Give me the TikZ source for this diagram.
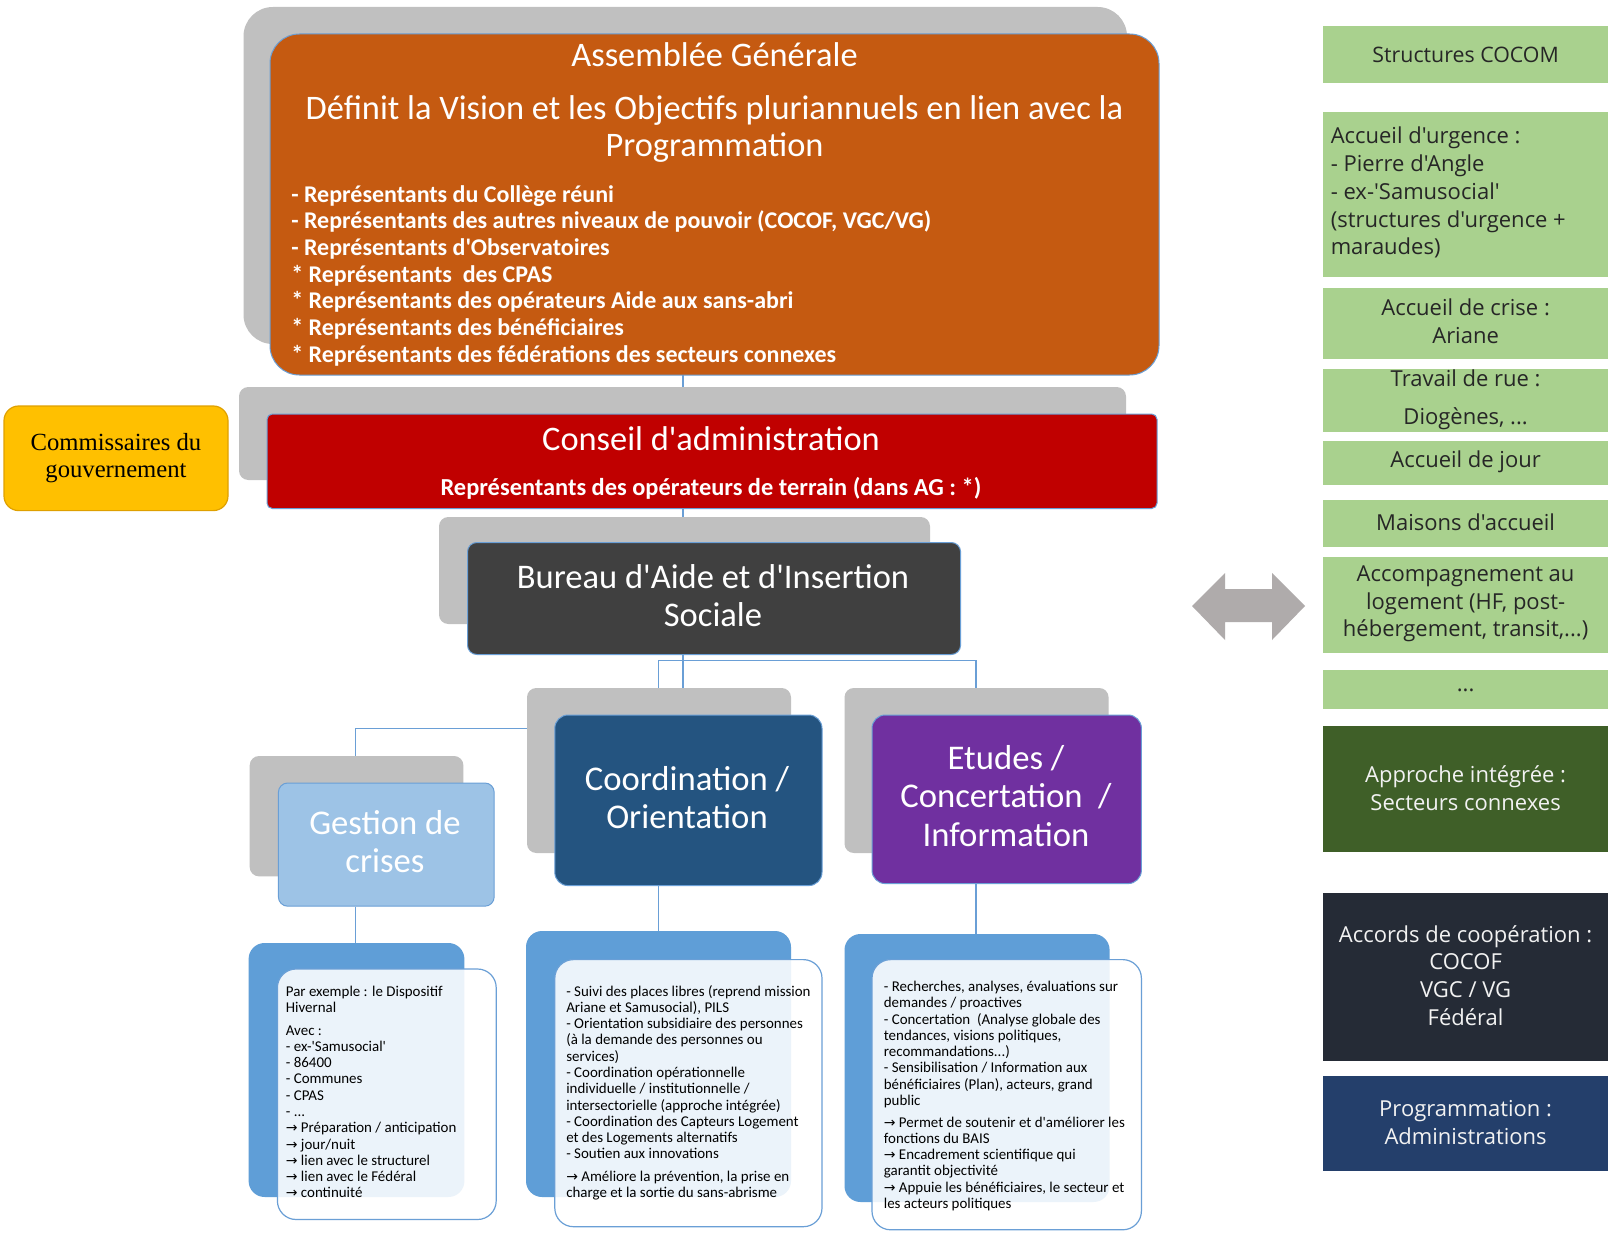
\documentclass[tikz,border=0pt]{standalone}
\usepackage{fontspec}
\setmainfont{Carlito}[Ligatures=TeXOff]
\newfontfamily\rcol{Open Sans}[Ligatures=TeXOff]
\newfontfamily\serifc{Liberation Serif}[Ligatures=TeXOff]
\newfontfamily\arrf{DejaVu Sans}
\usetikzlibrary{fit}
\definecolor{agorange}{HTML}{C55A11}
\definecolor{shgrey}{HTML}{C0C0C0}
\definecolor{cared}{HTML}{C00000}
\definecolor{yel}{HTML}{FFC000}
\definecolor{yelborder}{HTML}{DFA000}
\definecolor{baisgrey}{HTML}{404040}
\definecolor{gestblue}{HTML}{9DC3E6}
\definecolor{coordblue}{HTML}{245480}
\definecolor{etpurple}{HTML}{7030A0}
\definecolor{backblue}{HTML}{5F9ED7}
\definecolor{bordblue}{HTML}{6A9FD6}
\definecolor{lgreen}{HTML}{A9D18E}
\definecolor{dgreen}{HTML}{3F5F28}
\definecolor{accordc}{HTML}{252B36}
\definecolor{progc}{HTML}{243F6B}
\definecolor{arrgrey}{HTML}{AFABAB}
\definecolor{darktext}{HTML}{262626}
\definecolor{lighttext}{HTML}{F2F2F2}
\newcommand{\ar}{{\arrf\fontsize{10.5}{10}\selectfont →}}
\begin{document}
\begin{tikzpicture}[x=0.75pt,y=-0.75pt,
  shadowbox/.style={fill=shgrey, inner sep=0pt, rounded corners=7pt},
  mainbox/.style={draw=bordblue, line width=0.75pt, inner sep=0pt, rounded corners=7pt},
  backbox/.style={fill=backblue, inner sep=0pt, rounded corners=12pt},
  frontbox/.style={fill=white, fill opacity=0.88, draw=bordblue, line width=0.9pt, inner sep=0pt, rounded corners=14pt},
  wtext/.style={text=white, inner sep=0pt},
  smalltext/.style={text=black, inner sep=0pt, align=left, anchor=north west, font=\fontsize{11.2}{12.2}\selectfont},
  gbox/.style={fill=lgreen, inner sep=0pt},
  rtext/.style={inner sep=0pt, align=center, font=\rcol\fontsize{16.5}{20.8}\selectfont},
  conn/.style={draw=bordblue, line width=1.1pt}
]
\useasboundingbox[fill=white] (0,0) rectangle (1611,1234);

% named junction coordinates
\coordinate (trunk) at (683,0);
\coordinate (cobr) at (658.6,660.6);
\coordinate (etbr) at (976,660.6);
\coordinate (gek) at (355.5,728.4);

% ---------- boxes (shadows first) ----------
\node[shadowbox, rounded corners=22pt, fit={(243.5,7) (1127,344)}] (aggrey) {};
\node[shadowbox, fit={(239,387) (1126,480)}] (cagrey) {};
\node[shadowbox, fit={(439,517) (930,624)}] (baisgrey) {};
\node[shadowbox, fit={(249.7,756) (463.4,876.4)}] (gegrey) {};
\node[shadowbox, fit={(527,688) (791,853)}] (cogrey) {};
\node[shadowbox, fit={(844.5,688) (1108.6,853)}] (etgrey) {};

% connectors
\draw[conn] (trunk |- 0,375) -- (trunk |- cagrey.north);
\draw[conn] (trunk |- 0,508) -- (trunk |- baisgrey.north);
\draw[conn] (trunk |- 0,654) -- (trunk |- cogrey.north);
\draw[conn] (cogrey.north -| cobr) -- (cobr) -- (etbr) -- (etgrey.north -| etbr);
\draw[conn] (gegrey.north -| gek) -- (gek) -- (gek -| cogrey.west);

\node[mainbox, fill=agorange, rounded corners=22pt, fit={(270,34) (1159,375)}] (ag) {};
\node[mainbox, fill=cared, rounded corners=4pt, fit={(267,414) (1157,508.5)}] (ca) {};
\node[draw=yelborder, line width=0.9pt, fill=yel, inner sep=0pt, rounded corners=11pt, fit={(4,406) (228,510.6)}] (comm) {};
\node[mainbox, fill=baisgrey, fit={(467.5,542.5) (960.6,654.5)}] (bais) {};
\node[mainbox, fill=gestblue, fit={(278.4,783) (494.2,906.2)}] (ge) {};
\node[mainbox, fill=coordblue, rounded corners=10pt, fit={(554.8,715) (822,885.6)}] (co) {};
\node[mainbox, fill=etpurple, rounded corners=10pt, fit={(872,715) (1141.4,883.6)}] (et) {};

% bottom detail boxes
\node[backbox, fit={(248.6,943) (464.4,1197)}] (geback) {};
\node[backbox, fit={(526,931) (791,1197)}] (coback) {};
\node[backbox, fit={(844.5,934) (1109.6,1202)}] (etback) {};
\draw[conn] (ge.south -| gek) -- (geback.north -| gek);
\draw[conn] (co.south -| cobr) -- (coback.north -| cobr);
\draw[conn] (et.south -| etbr) -- (etback.north -| etbr);
\node[frontbox, fit={(277.4,969) (496.2,1219.5)}] (gefront) {};
\node[frontbox, fit={(554.8,959.6) (822,1226.7)}] (cofront) {};
\node[frontbox, fit={(872,959.6) (1141.4,1229.8)}] (etfront) {};

% ---------- texts ----------
\node[wtext, font=\fontsize{25.8}{28}\selectfont] (agt1) at (714.5,54.5) {Assemblée Générale};
\node[wtext, align=center, font=\fontsize{25.8}{28}\selectfont] (agt2) at (714.5,129) {Définit la Vision et les Objectifs pluriannuels en lien avec la\\Programmation};
\node[wtext, align=left, anchor=north west, font=\bfseries\fontsize{18}{20}\selectfont] (agl) at (291,185) {- Représentants du Collège réuni\\- Représentants des autres niveaux de pouvoir (COCOF, VGC/VG)\\- Représentants d'Observatoires\\* Représentants\ \ des CPAS\\* Représentants des opérateurs Aide aux sans-abri\\* Représentants des bénéficiaires\\* Représentants des fédérations des secteurs connexes};

\node[wtext, font=\fontsize{25.8}{28}\selectfont] (cat1) at (711,439) {Conseil d'administration};
\node[wtext, font=\bfseries\fontsize{18.3}{20}\selectfont] (cat2) at (711,488) {Représentants des opérateurs de terrain (dans AG : *)};

\node[inner sep=0pt, align=center, text=black, font=\serifc\fontsize{18.5}{20.8}\selectfont] (commt) at (116,458) {Commissaires du\\gouvernement};

\node[wtext, align=center, font=\fontsize{25.9}{29}\selectfont] (baist) at (713,595.5) {Bureau d'Aide et d'Insertion\\Sociale};
\node[wtext, align=center, font=\fontsize{26}{29}\selectfont] (get) at (385,841.5) {Gestion de\\crises};
\node[wtext, align=center, font=\fontsize{26}{29}\selectfont] (cot) at (687,797.5) {Coordination /\\Orientation};
\node[wtext, align=center, font=\fontsize{26}{29}\selectfont] (ett) at (1006,796) {Etudes /\\Concertation\ \ /\\Information};

\node[smalltext] (gedet) at (285.6,986) {Par exemple : le Dispositif\\Hivernal\\[4.5pt]Avec :\\- ex-'Samusocial'\\- 86400\\- Communes\\- CPAS\\- ...\\\ar{} Préparation / anticipation\\\ar{} jour/nuit\\\ar{} lien avec le structurel\\\ar{} lien avec le Fédéral\\\ar{} continuité};
\node[smalltext] (codet) at (566,985) {- Suivi des places libres (reprend mission\\Ariane et Samusocial), PILS\\- Orientation subsidiaire des personnes\\(à la demande des personnes ou\\services)\\- Coordination opérationnelle\\individuelle / institutionnelle /\\intersectorielle (approche intégrée)\\- Coordination des Capteurs Logement\\et des Logements alternatifs\\- Soutien aux innovations\\[4.5pt]\ar{} Améliore la prévention, la prise en\\charge et la sortie du sans-abrisme};
\node[smalltext] (etdet) at (883.6,981) {- Recherches, analyses, évaluations sur\\demandes / proactives\\- Concertation\ \ (Analyse globale des\\tendances, visions politiques,\\recommandations...)\\- Sensibilisation / Information aux\\bénéficiaires (Plan), acteurs, grand\\public\\[4pt]\ar{} Permet de soutenir et d'améliorer les\\fonctions du BAIS\\\ar{} Encadrement scientifique qui\\garantit objectivité\\\ar{} Appuie les bénéficiaires, le secteur et\\les acteurs politiques};

% ---------- right column ----------
\node[gbox, fit={(1323.3,25.7) (1608,83.2)}] (cocom) {};
\node[gbox, fit={(1323.3,112) (1608,277.4)}] (urg) {};
\node[gbox, fit={(1323.3,287.7) (1608,358.6)}] (crise) {};
\node[gbox, fit={(1323.3,368.8) (1608,431.5)}] (rue) {};
\node[gbox, fit={(1323.3,440.8) (1608,485)}] (jour) {};
\node[gbox, fit={(1323.3,500.3) (1608,546.6)}] (mais) {};
\node[gbox, fit={(1323.3,556.9) (1608,653.4)}] (accomp) {};
\node[gbox, fit={(1323.3,669.9) (1608,709)}] (dots) {};
\node[fill=dgreen, inner sep=0pt, fit={(1323.3,726.4) (1608,851.7)}] (appr) {};
\node[fill=accordc, inner sep=0pt, fit={(1323.3,892.8) (1608,1061.3)}] (accords) {};
\node[fill=progc, inner sep=0pt, fit={(1323.3,1075.7) (1608,1171.2)}] (prog) {};

\node[rtext, text=darktext, font=\rcol\fontsize{16}{18}\selectfont] at (cocom) {Structures COCOM};
\node[rtext, text=darktext, align=left, anchor=north west] at (1330.5,127) {Accueil d'urgence :\\- Pierre d'Angle\\- ex-'Samusocial'\\(structures d'urgence +\\maraudes)};
\node[rtext, text=darktext] at (1465.6,321) {Accueil de crise :\\Ariane};
\node[rtext, text=darktext] at (1465.6,400) {Travail de rue :\\[7.7pt]Diogènes, ...};
\node[rtext, text=darktext] at (1465.6,462) {Accueil de jour};
\node[rtext, text=darktext] at (1465.6,522) {Maisons d'accueil};
\node[rtext, text=darktext] at (1465.6,604) {Accompagnement au\\logement (HF, post-\\hébergement, transit,...)};
\node[rtext, text=darktext] at (1465.6,690) {...};
\node[rtext, text=lighttext] at (1465.6,788.5) {Approche intégrée :\\Secteurs connexes};
\node[rtext, text=lighttext] at (1465.6,975.5) {Accords de coopération :\\COCOF\\VGC / VG\\Fédéral};
\node[rtext, text=lighttext] at (1465.6,1122.5) {Programmation :\\Administrations};

% double arrow
\fill[arrgrey] (1192,606) -- (1225,573) -- (1225,589) -- (1272,589) -- (1272,573) -- (1305,606) -- (1272,640) -- (1272,622) -- (1225,622) -- (1225,640) -- cycle;
\end{tikzpicture}
\end{document}
